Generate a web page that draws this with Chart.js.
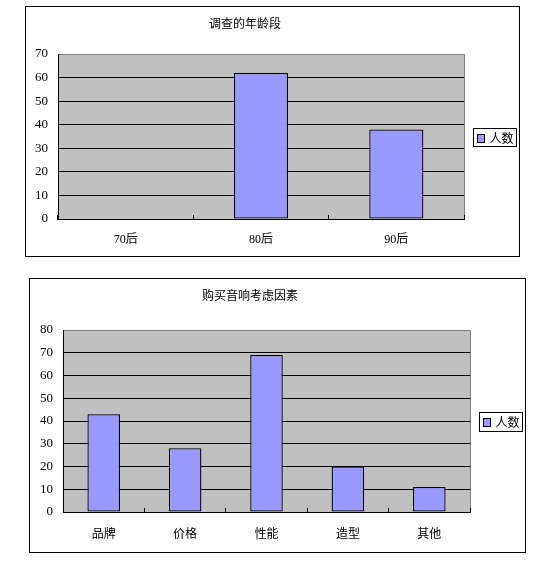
<!DOCTYPE html>
<html>
<head>
<meta charset="utf-8">
<script src="https://cdn.jsdelivr.net/npm/chart.js@4.4.1/dist/chart.umd.min.js"></script>
<style>
  body { margin: 0; background: #fff; }
  .frame { position: absolute; border: 1px solid #000; background: #fff; }
  .frame canvas { display: block; }
</style>
</head>
<body>
<div class="frame" id="frame1" style="left:25px; top:6px; width:493px; height:249px;">
  <canvas id="ageChart" width="493" height="249"></canvas>
</div>
<div class="frame" id="frame2" style="left:29px; top:278px; width:495px; height:273px;">
  <canvas id="factorChart" width="495" height="273"></canvas>
</div>
<script>
// chart data
const ageLabels = ['70后', '80后', '90后'];
const ageCounts = [0, 62, 38];
const ageTicks = [0, 10, 20, 30, 40, 50, 60, 70];

const factorLabels = ['品牌', '价格', '性能', '造型', '其他'];
const factorCounts = [43, 28, 69, 20, 11];
const factorTicks = [0, 10, 20, 30, 40, 50, 60, 70, 80];

const seriesName = '人数';

Chart.defaults.font.family = '"Liberation Serif", "Times New Roman", "Noto Sans CJK SC"';
Chart.defaults.color = '#000';
Chart.defaults.animation = false;

// grey plot background with grey top/right edge
const plotBackground = {
    id: 'plotBackground',
    beforeDraw(chart) {
        const { ctx, chartArea: a } = chart;
        ctx.save();
        ctx.fillStyle = '#c0c0c0';
        ctx.fillRect(a.left, a.top, a.right - a.left, a.bottom - a.top);
        ctx.strokeStyle = '#808080';
        ctx.lineWidth = 1;
        ctx.beginPath();
        ctx.moveTo(a.left, Math.round(a.top) + 0.5);
        ctx.lineTo(Math.round(a.right) + 0.5, Math.round(a.top) + 0.5);
        ctx.lineTo(Math.round(a.right) + 0.5, a.bottom);
        ctx.stroke();
        ctx.restore();
    }
};

// boxed legend to the right of the plot
const boxedLegend = {
    id: 'boxedLegend',
    afterDraw(chart, args, opts) {
        const { ctx, chartArea: a } = chart;
        const ds = chart.data.datasets[0];
        const w = opts.width, h = opts.height;
        const x = Math.round(a.right + opts.gap) + 0.5;
        const y = Math.round((a.top + a.bottom) / 2 - h / 2) + 0.5;
        ctx.save();
        ctx.lineWidth = 1;
        ctx.strokeStyle = '#000';
        ctx.fillStyle = '#fff';
        ctx.fillRect(x, y, w, h);
        ctx.strokeRect(x, y, w, h);
        const sy = Math.round(y + h / 2 - opts.swatchH / 2) + 0.5;
        ctx.fillStyle = ds.backgroundColor;
        ctx.fillRect(x + 4, sy, opts.swatchW, opts.swatchH);
        ctx.strokeRect(x + 4, sy, opts.swatchW, opts.swatchH);
        ctx.fillStyle = '#000';
        ctx.font = '12px "Noto Sans CJK SC"';
        ctx.textBaseline = 'middle';
        ctx.fillText(ds.label, x + opts.textX, y + h / 2 + 0.5);
        ctx.restore();
    }
};

function makeChart(id, labels, counts, ticks, title, layout) {
    const maxTick = ticks[ticks.length - 1];
    return new Chart(document.getElementById(id), {
        type: 'bar',
        data: {
            labels: labels,
            datasets: [{
                label: seriesName,
                data: counts,
                backgroundColor: '#9999ff',
                borderColor: '#000',
                borderWidth: 1.3,
                borderSkipped: false,
                barPercentage: 0.4,
                categoryPercentage: 1
            }]
        },
        options: {
            responsive: false,
            devicePixelRatio: 1,
            layout: { padding: { left: 0, right: layout.right, top: 0, bottom: 0 } },
            plugins: {
                legend: { display: false },
                tooltip: { enabled: false },
                title: {
                    display: true,
                    text: title,
                    color: '#000',
                    font: { family: '"Noto Sans CJK SC"', size: 12, weight: 'normal', lineHeight: 1.2 },
                    padding: { top: layout.titleTop, bottom: layout.titleBottom }
                },
                boxedLegend: { gap: 9, width: 43, height: layout.legendH, swatchW: 7, swatchH: 8, textX: 16 }
            },
            scales: {
                x: {
                    grid: {
                        display: true,
                        drawOnChartArea: false,
                        drawTicks: true,
                        tickLength: -4,
                        offset: true,
                        color: '#000'
                    },
                    border: { color: '#000', width: 1 },
                    ticks: {
                        color: '#000',
                        padding: layout.labelPad,
                        font: { size: 12 }
                    },
                    afterFit(scale) { scale.height = layout.xHeight; }
                },
                y: {
                    min: 0,
                    max: maxTick,
                    afterBuildTicks(scale) { scale.ticks = ticks.map(v => ({ value: v })); },
                    grid: {
                        drawTicks: false,
                        color: ctx => (ctx.tick && ctx.tick.value === maxTick) ? '#808080' : '#000'
                    },
                    border: { color: '#000', width: 1 },
                    ticks: {
                        color: '#000',
                        padding: 10,
                        font: { size: 13 }
                    },
                    afterFit(scale) { scale.width = layout.yWidth; }
                }
            }
        },
        plugins: [plotBackground, boxedLegend]
    });
}

makeChart('ageChart', ageLabels, ageCounts, ageTicks, '调查的年龄段', {
    right: 55, titleTop: 9, titleBottom: 23.6, xHeight: 37, yWidth: 32, labelPad: 18, legendH: 18
});

makeChart('factorChart', factorLabels, factorCounts, factorTicks, '购买音响考虑因素', {
    right: 55, titleTop: 8.8, titleBottom: 27.8, xHeight: 40, yWidth: 33, labelPad: 20, legendH: 19
});
</script>
</body>
</html>
